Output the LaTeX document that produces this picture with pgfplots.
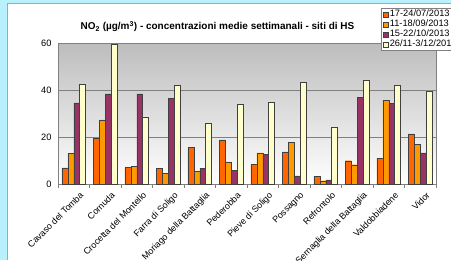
\documentclass[border=0pt]{standalone}
\usepackage{pgfplots}
\pgfplotsset{compat=1.18}
\usepackage{fontspec}
\setmainfont{Liberation Sans}
\definecolor{sA}{HTML}{FF6600}
\definecolor{sB}{HTML}{FF9900}
\definecolor{sC}{HTML}{993366}
\definecolor{sD}{HTML}{FFFFCC}
\definecolor{cyanbg}{HTML}{B8F0FC}
\begin{document}
\begin{tikzpicture}[x=1bp,y=1bp]
\useasboundingbox (0,0) rectangle (451,260);
\fill[cyanbg] (0,0) rectangle (451,260);
\fill[white] (7.5,0) rectangle (451,256.5);
\draw[gray!70,line width=0.6bp] (7.5,0) -- (7.5,256.5) -- (451,256.5);
\node[font=\bfseries\fontsize{10}{12}\selectfont] at (217.5,233.5) {NO\textsubscript{2} (µg/m\textsuperscript{3}) - concentrazioni medie settimanali - siti di HS};
\begin{axis}[
  at={(58bp,76bp)}, anchor=south west,
  scale only axis, width=378bp, height=141bp,
  xmin=-0.5, xmax=11.5, ymin=0, ymax=60,
  ybar=0pt, bar width=5.9bp,
  axis background/.style={top color=black!26, bottom color=white},
  axis line style={gray, line width=0.6bp},
  ymajorgrids, major grid style={gray, line width=0.6bp},
  ytick={0,20,40,60},
  xtick={0,...,11},
  xticklabels={Cavaso del Tomba, Cornuda, Crocetta del Montello, Farra di Soligo, Moriago della Battaglia, Pederobba, Pieve di Soligo, Possagno, Refrontolo, Sernaglia della Battaglia, Valdobbiadene, Vidor},
  minor xtick={-0.5,0.5,...,11.5},
  major tick length=0pt, minor tick length=4bp,
  tick align=outside, tick pos=left,
  minor tick style={gray, line width=0.6bp},
  x tick label style={rotate=45, anchor=north east, inner sep=1bp, yshift=-8bp, xshift=0bp, font=\fontsize{9}{10}\selectfont},
  y tick label style={font=\fontsize{9.3}{10}\selectfont, xshift=-3bp},
  /pgf/number format/assume math mode=true,
  legend style={at={(0.854,1.248)}, anchor=north west, draw=gray, fill=white,
    font=\fontsize{9.3}{9.7}\selectfont, row sep=0pt, inner xsep=1.5bp, inner ysep=1bp,
    nodes={inner sep=0.4bp, text height=7bp, text depth=2.2bp}},
  legend cell align=left,
  legend image code/.code={\draw[#1, line width=0.4bp] (0bp,-2.5bp) rectangle (5bp,2.5bp); \path (6.5bp,0);},
  every axis plot/.append style={draw=black!75, line width=0.4bp},
]
\addplot[fill=sA] coordinates {(0,6.9) (1,19.7) (2,7.0) (3,6.6) (4,15.5) (5,18.8) (6,8.3) (7,13.7) (8,3.2) (9,9.9) (10,11.0) (11,21.3)};
\addplot[fill=sB] coordinates {(0,12.9) (1,27.3) (2,7.4) (3,4.6) (4,5.4) (5,9.4) (6,13.2) (7,17.8) (8,1.4) (9,8.2) (10,35.6) (11,17.0)};
\addplot[fill=sC] coordinates {(0,34.5) (1,38.4) (2,38.4) (3,36.5) (4,6.6) (5,5.9) (6,12.5) (7,3.5) (8,1.8) (9,36.9) (10,34.2) (11,13.2)};
\addplot[fill=sD] coordinates {(0,42.3) (1,59.5) (2,28.6) (3,41.9) (4,25.9) (5,33.8) (6,34.6) (7,43.3) (8,24.2) (9,44.0) (10,41.9) (11,39.6)};
\legend{17-24/07/2013, 11-18/09/2013, 15-22/10/2013, 26/11-3/12/2013}
\end{axis}
\end{tikzpicture}
\end{document}
